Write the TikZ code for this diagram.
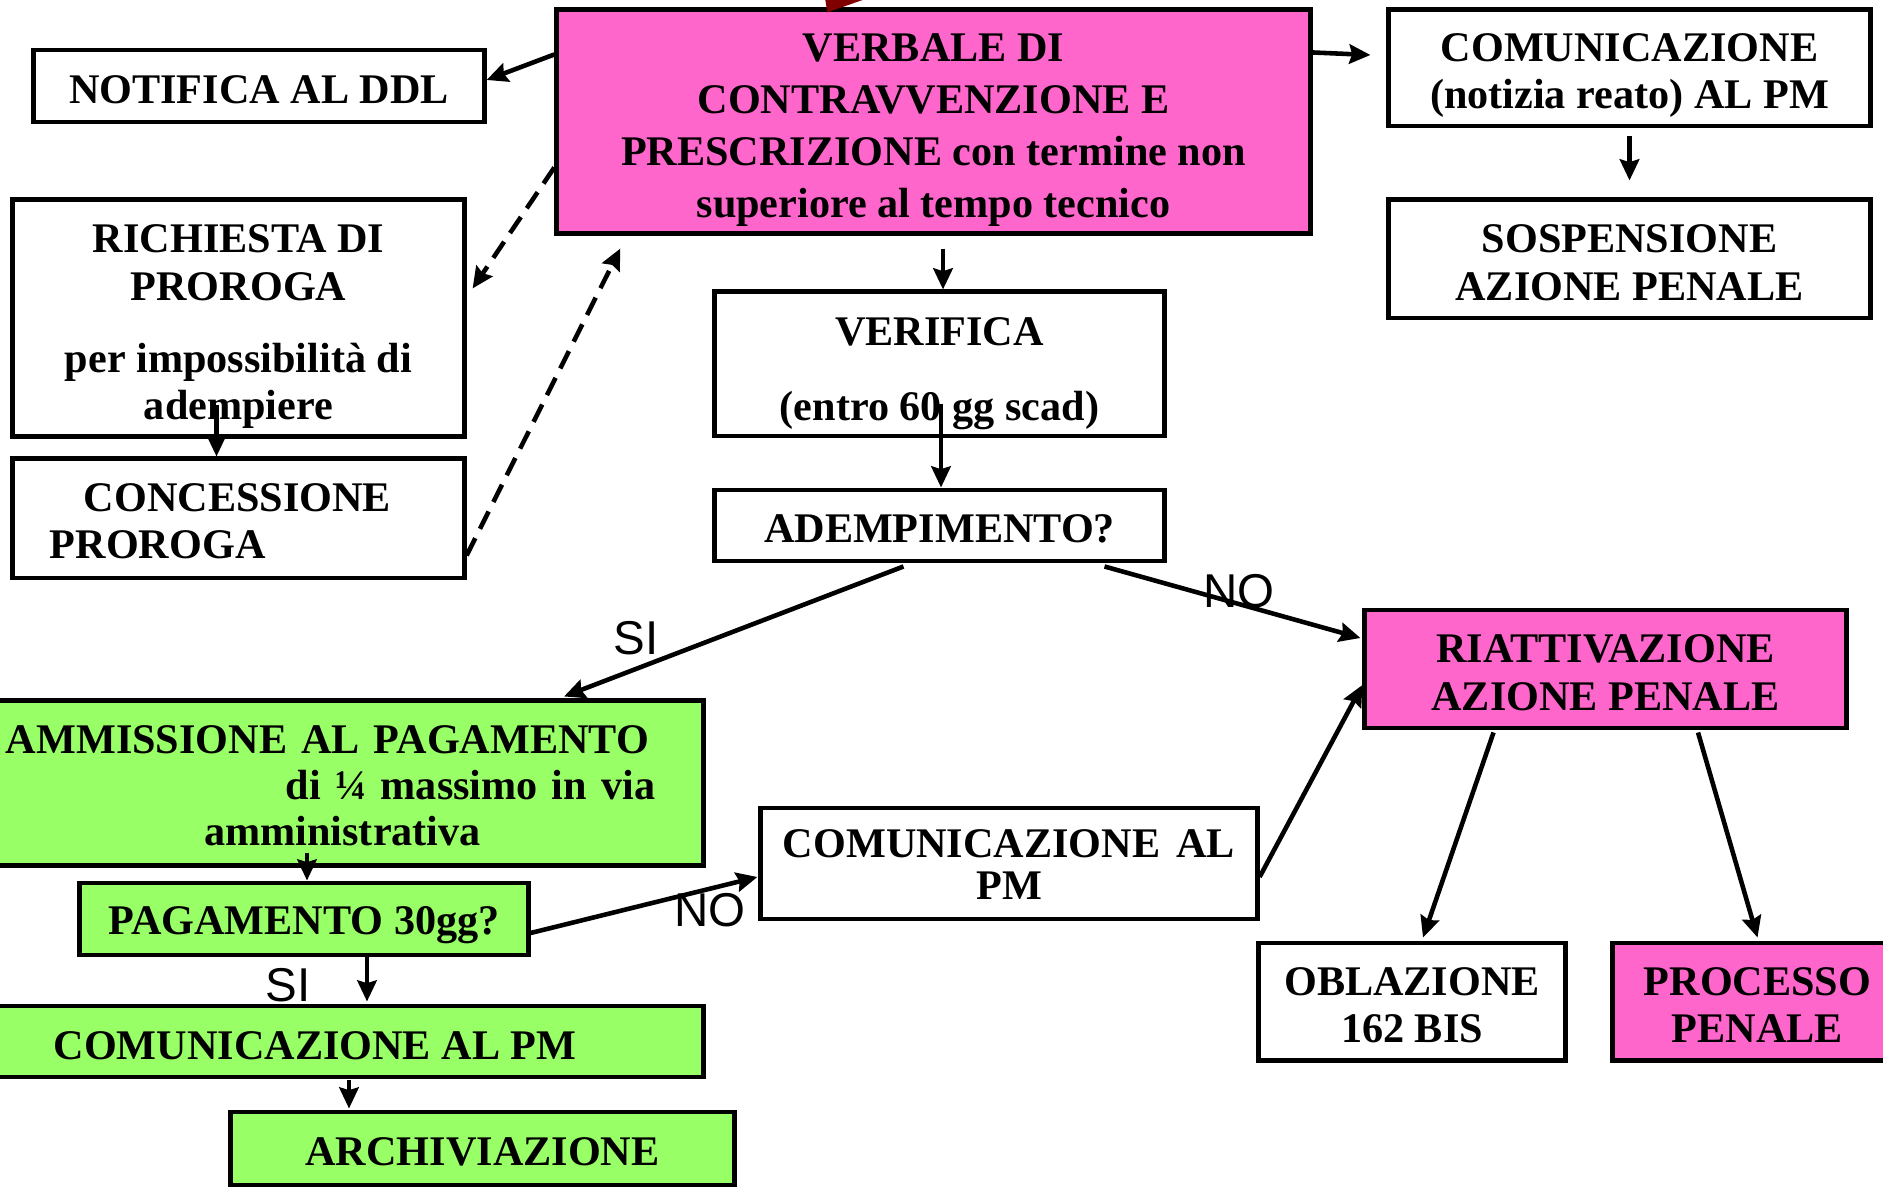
\documentclass[tikz,border=0pt]{standalone}
\usepackage{fontspec}
\setmainfont{Liberation Serif}
\newfontfamily\labelsf{Liberation Sans}
\usetikzlibrary{calc,arrows.meta}
\definecolor{rosa}{HTML}{FF66CC}
\definecolor{verde}{HTML}{99FF66}
\definecolor{rossoscuro}{HTML}{800000}
% invisible strut that lowers the text inside a box
\newcommand{\giu}[1]{\rule{0pt}{#1}}

\begin{document}
\begin{tikzpicture}[x=0.01cm, y=-0.01cm,
    box/.style={draw, line width=1.4pt, inner sep=0pt, align=center,
      font=\fontsize{12}{13.5}\selectfont\bfseries},
    pinkbox/.style={box, fill=rosa},
    greenbox/.style={box, fill=verde},
    arr/.style={-{Stealth[length=6pt,width=5.5pt,inset=0.8pt]}, line width=1.3pt},
    dasharr/.style={arr, dash pattern=on 5.5pt off 3pt},
    yesno/.style={font=\labelsf\fontsize{13.5}{14}\selectfont, inner sep=0pt}]
    \useasboundingbox (0,0) rectangle (1883,1189);
    \clip (0,0) rectangle (1883,1189);
    % top row
    \node[box, minimum width=4.50cm, minimum height=0.72cm] (notifica) at (259,86) {\giu{10pt}NOTIFICA AL DDL};
    \node[pinkbox, minimum width=7.53cm, minimum height=2.23cm,
      font=\fontsize{12}{14.8}\selectfont\bfseries] (verbale) at (933.5,121.5)
      {\giu{12.7pt}VERBALE DI\\CONTRAVVENZIONE E\\PRESCRIZIONE con termine non\\superiore al tempo tecnico};
    \node[box, minimum width=4.81cm, minimum height=1.16cm] (avviso) at (1629.5,68) {\giu{12.3pt}COMUNICAZIONE\\(notizia reato) AL PM};
    \node[box, minimum width=4.81cm, minimum height=1.18cm] (sospensione) at (1629.5,259) {\giu{10pt}SOSPENSIONE\\AZIONE PENALE};
    % proroga
    \node[box, minimum width=4.51cm, minimum height=2.36cm] (richiesta) at (238.5,318)
      {\giu{13pt}RICHIESTA DI\\PROROGA\\[7pt]per impossibilità di\\adempiere};
    \node[box, minimum width=4.51cm, minimum height=1.19cm, text width=3.77cm, align=left] (concessione) at (238.5,518.5)
      {\giu{9.6pt}\hspace*{0.34cm}CONCESSIONE\\PROROGA};
    % verifica
    \node[box, minimum width=4.49cm, minimum height=1.44cm] (verifica) at (939.5,364) {\giu{13.4pt}VERIFICA\\[8pt](entro 60 gg scad)};
    \node[box, minimum width=4.49cm, minimum height=0.71cm] (adempimento) at (939.5,525.5) {\giu{10pt}ADEMPIMENTO?};
    \node[pinkbox, minimum width=4.81cm, minimum height=1.18cm] (riattivazione) at (1605.5,669) {\giu{10pt}RIATTIVAZIONE\\AZIONE PENALE};
    % ramo SI
    \node[greenbox, minimum width=7.51cm, minimum height=1.64cm, text width=6.55cm,
      font=\fontsize{12}{13.1}\selectfont\bfseries] (ammissione) at (327.5,783)
      {\giu{9.6pt}AMMISSIONE AL PAGAMENTO\\\hspace*{\fill}di ¼ massimo in via\hspace*{0.09cm}\\\hspace*{0.3cm}amministrativa};
    \node[greenbox, minimum width=4.48cm, minimum height=0.72cm] (pagamento) at (304,919) {\giu{11.3pt}PAGAMENTO 30gg?};
    \node[greenbox, minimum width=7.76cm, minimum height=0.71cm] (comverde) at (315,1041.5) {\giu{10.6pt}COMUNICAZIONE AL PM};
    \node[greenbox, minimum width=5.03cm, minimum height=0.73cm] (archiviazione) at (482.5,1148.5) {\giu{10pt}ARCHIVIAZIONE};
    % ramo NO
    \node[box, minimum width=4.96cm, minimum height=1.11cm, text width=4.52cm,
      font=\fontsize{12}{12}\selectfont\bfseries] (combianco) at (1009,863.5)
      {\giu{8.6pt}COMUNICAZIONE\hfill AL\\PM};
    \node[box, minimum width=3.06cm, minimum height=1.17cm] (oblazione) at (1412,1001.5) {\giu{10pt}OBLAZIONE\\162 BIS};
    \node[pinkbox, minimum width=2.89cm, minimum height=1.17cm] (processo) at (1757.5,1001.5) {\giu{10pt}PROCESSO\\PENALE};
    % labels
    \node[yesno] (si1) at (636,638) {SI};
    \node[yesno] (no1) at (1239,591) {NO};
    \node[yesno] (si2) at (288,985) {SI};
    \node[yesno] (no2) at (710,910) {NO};
    % arrows
    \coordinate (rosso) at (870,-60);
    \draw[-{Triangle[length=11pt,width=18pt]}, line width=2pt, rossoscuro] (rosso) -- ($(verbale.north west)+(273,5)$);
    \draw[arr] ($(verbale.north west)+(0,47)$) -- ($(notifica.east)+(0,-6)$);
    \draw[arr] ($(verbale.north east)+(0,45)$) -- ($(avviso.west)+(-16,-13)$);
    \draw[arr] ($(avviso.south)+(0,8)$) -- ($(sospensione.north)+(0,-17)$);
    \draw[arr] ($(verbale.south)+(9.5,13)$) -- ($(verifica.north)+(3.5,0)$);
    \draw[arr] ($(verifica.south)+(1.5,-34)$) -- ($(adempimento.north)+(1.5,0)$);
    \draw[dasharr] ($(verbale.north west)+(0,160)$) -- ($(richiesta.north east)+(6,91)$);
    \draw[arr] ($(richiesta.south)+(-22,-34)$) -- ($(concessione.north)+(-22,0)$);
    \draw[dasharr] ($(concessione.east)+(0,37)$) -- ($(verbale.south west)+(66,13)$);
    \draw[arr] ($(adempimento.south)+(-36,3)$) -- ($(ammissione.north)+(236.5,-2)$);
    \draw[arr] ($(adempimento.south)+(165,3)$) -- ($(riattivazione.west)+(-2,-31)$);
    \draw[arr] ($(ammissione.south)+(-20.5,-15)$) -- ($(pagamento.north)+(3,0)$);
    \draw[arr] ($(pagamento.south)+(63,0)$) -- ($(comverde.north)+(52,-2)$);
    \draw[arr] ($(pagamento.east)+(0,14)$) -- ($(combianco.west)+(-1,13.5)$);
    \draw[arr] ($(comverde.south)+(34,1)$) -- ($(archiviazione.north)+(-133.5,-1)$);
    \draw[arr] ($(combianco.east)+(0,13.5)$) -- ($(riattivazione.west)+(0,16)$);
    \draw[arr] ($(riattivazione.south)+(-112,2)$) -- ($(oblazione.north)+(11,-3)$);
    \draw[arr] ($(riattivazione.south)+(92.5,2)$) -- ($(processo.north)+(0,-3)$);
\end{tikzpicture}
\end{document}
